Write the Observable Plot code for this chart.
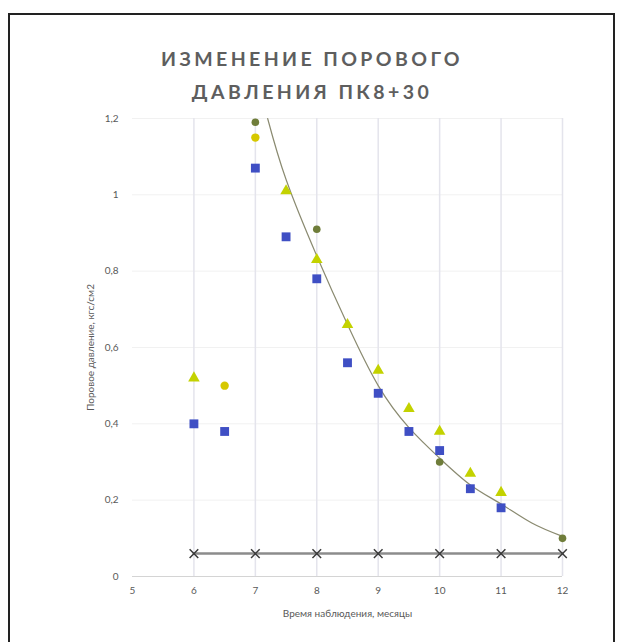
<!DOCTYPE html>
<html>
<head>
<meta charset="utf-8">
<script src="https://cdn.jsdelivr.net/npm/d3@7"></script>
<script src="https://cdn.jsdelivr.net/npm/@observablehq/plot@0.6"></script>
<style>
  html, body { margin: 0; padding: 0; background: #fff; }
  #page { position: relative; width: 624px; height: 642px; overflow: hidden; }
  #frame {
    position: absolute; left: 8px; top: 13px; width: 607px; height: 660px;
    border: 2px solid #222; box-sizing: border-box;
  }
  #title {
    position: absolute; left: 0; top: 42px; width: 624px; text-align: center;
    font-family: Lato, "Open Sans", sans-serif; font-weight: 700; font-size: 19.5px;
    letter-spacing: 3.4px; line-height: 33px; color: #5e5e5e;
  }
  #chart { position: absolute; left: 0; top: 0; }
</style>
</head>
<body>
<div id="page">
  <div id="frame"></div>
  <div id="chart"></div>
  <div id="title">ИЗМЕНЕНИЕ ПОРОВОГО<br>ДАВЛЕНИЯ ПК8+30</div>
</div>
<script>
// Observation months (x) and pore pressure readings (y), one list per sensor
const monthTicks = [5, 6, 7, 8, 9, 10, 11, 12];
const pressureTicks = [0, 0.2, 0.4, 0.6, 0.8, 1.0, 1.2];

const blueMonths = [6, 6.5, 7, 7.5, 8, 8.5, 9, 9.5, 10, 10.5, 11];
const bluePressure = [0.40, 0.38, 1.07, 0.89, 0.78, 0.56, 0.48, 0.38, 0.33, 0.23, 0.18];

const limeMonths = [6, 7.5, 8, 8.5, 9, 9.5, 10, 10.5, 11];
const limePressure = [0.52, 1.01, 0.83, 0.66, 0.54, 0.44, 0.38, 0.27, 0.22];

const goldMonths = [6.5, 7];
const goldPressure = [0.50, 1.15];

const oliveMonths = [7, 8, 10, 12];
const olivePressure = [1.19, 0.91, 0.30, 0.10];

const baseMonths = [6, 7, 8, 9, 10, 11, 12];
const basePressure = [0.06, 0.06, 0.06, 0.06, 0.06, 0.06, 0.06];

// Decay trend line
const trendMonths = [7.2, 7.5, 8, 8.5, 9, 9.5, 10, 10.5, 11, 11.5, 12];
const trendPressure = [1.20, 1.04, 0.84, 0.66, 0.50, 0.39, 0.31, 0.24, 0.19, 0.14, 0.105];

const zip = (xs, ys) => xs.map((x, i) => ({x, y: ys[i]}));
const blue = zip(blueMonths, bluePressure);
const lime = zip(limeMonths, limePressure);
const gold = zip(goldMonths, goldPressure);
const olive = zip(oliveMonths, olivePressure);
const base = zip(baseMonths, basePressure);
const trend = zip(trendMonths, trendPressure);

const fmt = d => String(+d.toFixed(1)).replace(".", ",");

const chart = Plot.plot({
  width: 624,
  height: 642,
  marginLeft: 132,
  marginRight: 62,
  marginTop: 118,
  marginBottom: 66,
  style: {fontFamily: "Lato, 'Open Sans', sans-serif", fontSize: "10px", color: "#595959", background: "transparent"},
  x: {domain: [5, 12], ticks: monthTicks, tickSize: 0, tickPadding: 10, tickFormat: d => String(d),
      label: "Время наблюдения, месяцы", labelAnchor: "center", labelOffset: 40, labelArrow: "none"},
  y: {domain: [0, 1.2], ticks: pressureTicks, tickSize: 0, tickPadding: 14, tickFormat: fmt,
      label: "Поровое давление, кгс/см2", labelAnchor: "center", labelOffset: 46, labelArrow: "none"},
  marks: [
    Plot.gridY(pressureTicks.slice(1), {stroke: "#f1f1f1", strokeOpacity: 1}),
    Plot.gridX(monthTicks.slice(1), {stroke: "#e4e4ec", strokeOpacity: 1, strokeWidth: 1.5}),
    Plot.ruleY([0], {stroke: "#d4d4d4"}),
    Plot.line(trend, {x: "x", y: "y", curve: "natural", stroke: "#8a8a70", strokeWidth: 1.2}),
    Plot.line(base, {x: "x", y: "y", stroke: "#8c8c8c", strokeWidth: 2.5}),
    Plot.dot(base, {x: "x", y: "y", symbol: "times", r: 4, stroke: "#3a3a3a", strokeWidth: 1.5}),
    Plot.dot(blue, {x: "x", y: "y", symbol: "square", r: 5, fill: "#3f4fc4", stroke: "none"}),
    Plot.dot(lime, {x: "x", y: "y", symbol: "triangle", r: 4.3, fill: "#c3d200", stroke: "none"}),
    Plot.dot(gold, {x: "x", y: "y", symbol: "circle", r: 4.2, fill: "#d6c800", stroke: "none"}),
    Plot.dot(olive, {x: "x", y: "y", symbol: "circle", r: 3.8, fill: "#6f7d3a", stroke: "none"})
  ]
});

document.getElementById("chart").append(chart);
</script>
</body>
</html>
